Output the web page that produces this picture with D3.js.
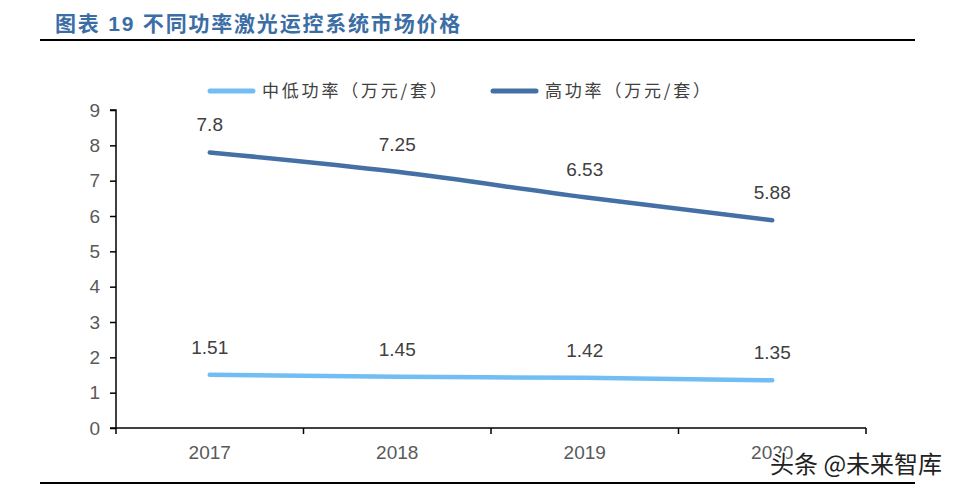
<!DOCTYPE html>
<html><head><meta charset="utf-8">
<script src="https://cdn.jsdelivr.net/npm/d3@7"></script>
<style>body{margin:0;background:#fff}svg{display:block}</style>
</head><body>
<script>
const years = ["2017","2018","2019","2020"];
const lowPower = [1.51,1.45,1.42,1.35];
const highPower = [7.8,7.25,6.53,5.88];
const lowLabels = ["1.51","1.45","1.42","1.35"];
const highLabels = ["7.8","7.25","6.53","5.88"];
const yTicks = [0,1,2,3,4,5,6,7,8,9];
const seriesNames = ["中低功率（万元/套）","高功率（万元/套）"];
const title = "图表 19 不同功率激光运控系统市场价格";
const watermark = "头条 @未来智库";

const W=966,H=489;
const svg=d3.select("body").append("svg").attr("width",W).attr("height",H);
const font="Arial, 'Liberation Sans', 'Noto Sans CJK SC', sans-serif";

svg.append("text").attr("x",55).attr("y",31).text(title)
  .attr("font-family",font).attr("font-size",21).attr("font-weight","bold").attr("fill","#3b6ea5")
  .attr("letter-spacing",1.8);
svg.append("line").attr("x1",40).attr("x2",915).attr("y1",40).attr("y2",40).attr("stroke","#000").attr("stroke-width",2);
svg.append("line").attr("x1",40).attr("x2",915).attr("y1",483).attr("y2",483).attr("stroke","#000").attr("stroke-width",2);

const x=d3.scaleBand().domain(years).range([116,866]);
const y=d3.scaleLinear().domain([0,9]).range([428,110]);

const ga=svg.append("g").attr("transform","translate(116,0)")
  .call(d3.axisLeft(y).tickValues(yTicks).tickSize(6).tickPadding(10).tickFormat(d3.format("d")));
ga.select(".domain").attr("stroke","#000").attr("stroke-width",1.5).attr("d","M-6,110H0V428H-6");
ga.selectAll(".tick line").attr("stroke","#000").attr("stroke-width",1.5);
ga.selectAll(".tick text").attr("font-family",font).attr("font-size",19).attr("fill","#595959");

const gx=svg.append("g").attr("transform","translate(0,428)");
gx.append("line").attr("x1",116).attr("x2",866).attr("stroke","#000").attr("stroke-width",1.5);
const bounds=years.map(d=>x(d)).concat([x.range()[1]]);
gx.selectAll("line.t").data(bounds).join("line").attr("class","t")
  .attr("x1",d=>d).attr("x2",d=>d).attr("y1",0).attr("y2",6).attr("stroke","#000").attr("stroke-width",1.5);
gx.selectAll("text").data(years).join("text")
  .attr("x",d=>x(d)+x.bandwidth()/2).attr("y",31).attr("text-anchor","middle")
  .attr("font-family",font).attr("font-size",19).attr("fill","#595959").text(d=>d);

const cx=d=>x(d)+x.bandwidth()/2;
const line=d3.line().x((d,i)=>cx(years[i])).y(d=>y(d)).curve(d3.curveMonotoneX);
const colors=["#72bef2","#4470a6"];
[[lowPower,lowLabels],[highPower,highLabels]].forEach(([vals,labs],k)=>{
  svg.append("path").datum(vals).attr("d",line).attr("fill","none")
    .attr("stroke",colors[k]).attr("stroke-width",4.5).attr("stroke-linecap","round");
  svg.selectAll(null).data(vals).join("text")
    .attr("x",(d,i)=>cx(years[i])).attr("y",d=>y(d)-21).attr("text-anchor","middle")
    .attr("font-family",font).attr("font-size",19).attr("fill","#404040").text((d,i)=>labs[i]);
});

const legX=[210,493];
seriesNames.forEach((n,k)=>{
  svg.append("line").attr("x1",legX[k]).attr("x2",legX[k]+43).attr("y1",91).attr("y2",91)
    .attr("stroke",colors[k]).attr("stroke-width",5).attr("stroke-linecap","round");
  svg.append("text").attr("x",legX[k]+52).attr("y",97).text(n)
    .attr("font-family","'Noto Sans CJK SC', sans-serif").attr("font-size",17).attr("fill","#404040")
    .attr("letter-spacing",2.8);
});

svg.append("text").attr("x",770).attr("y",473).text(watermark)
  .attr("font-family","'Noto Sans CJK SC', sans-serif").attr("font-size",24)
  .attr("fill","#222").attr("stroke","#fff").attr("stroke-width",3).attr("paint-order","stroke");
</script>
</body></html>
